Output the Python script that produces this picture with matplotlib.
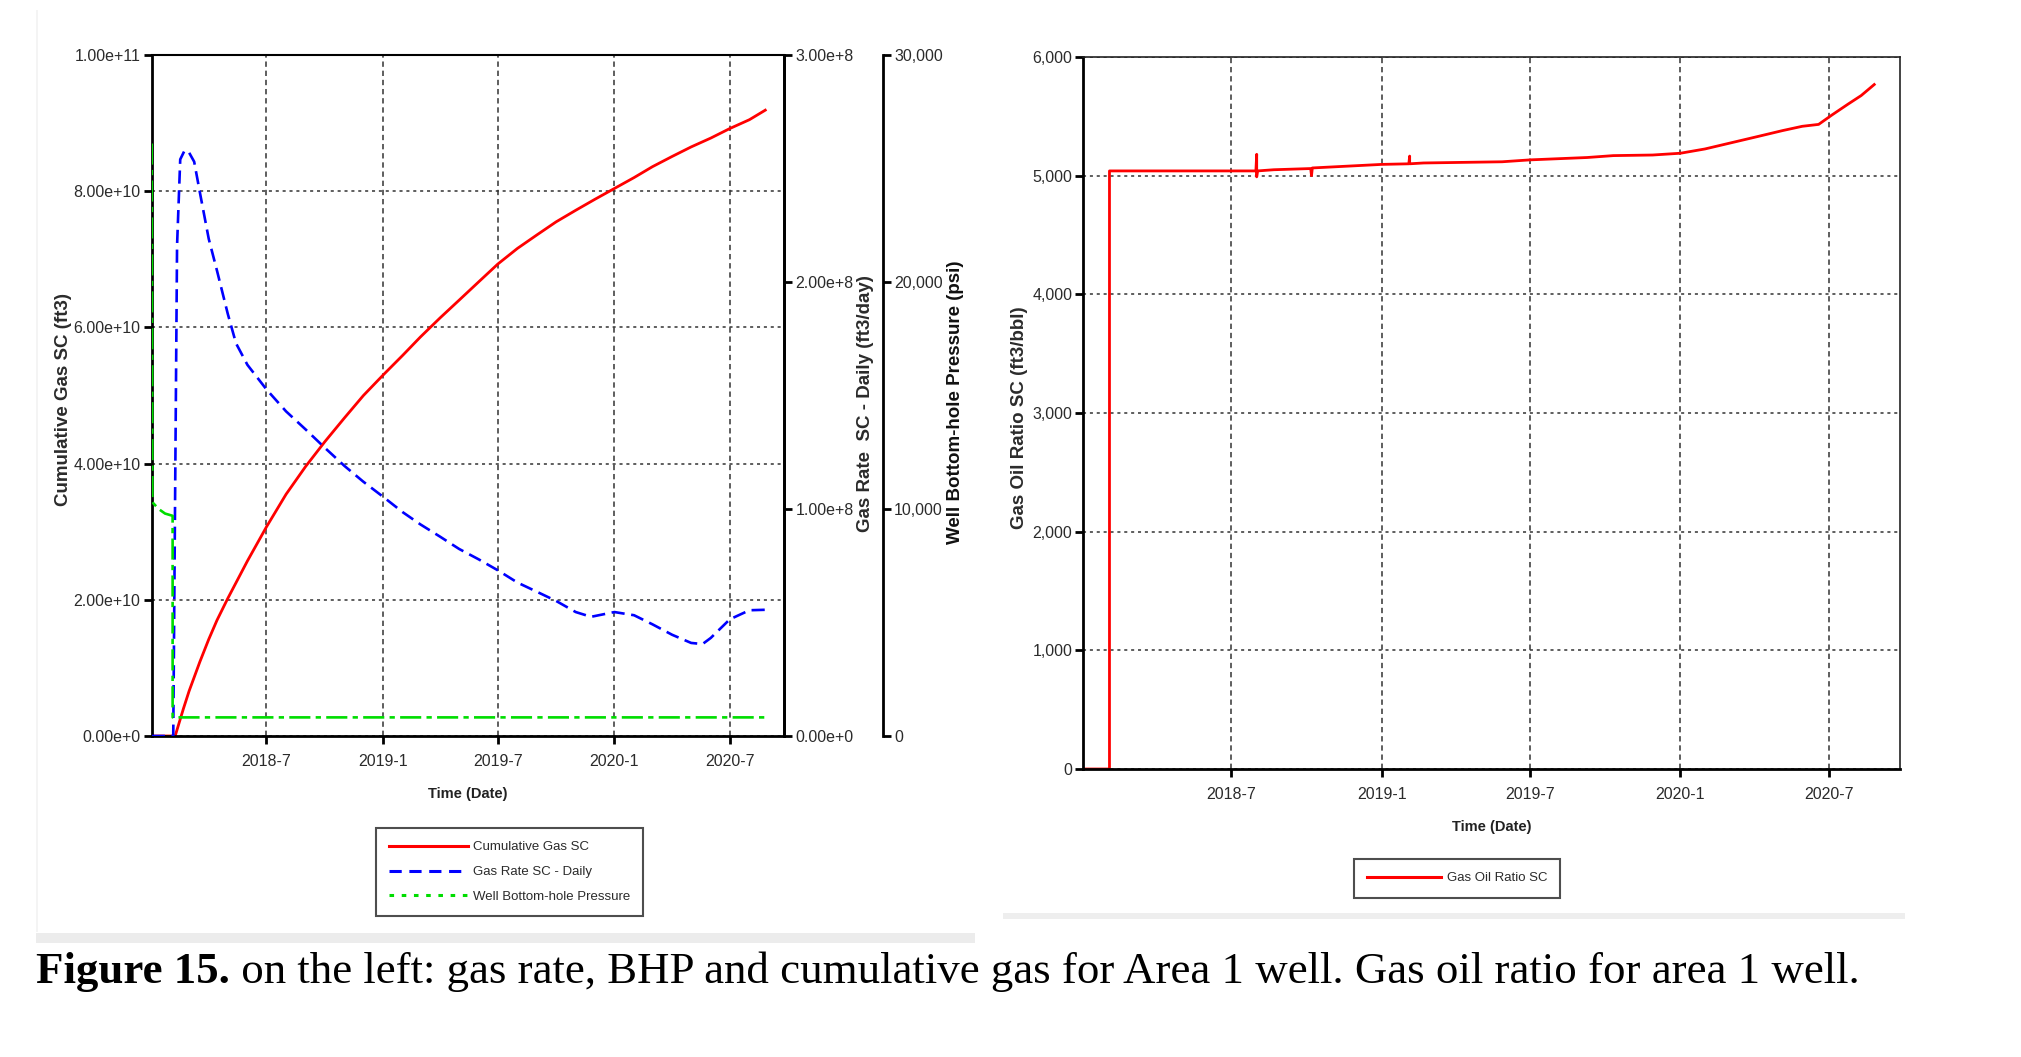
import numpy as np
import matplotlib
matplotlib.use("Agg")
import matplotlib.pyplot as plt
from matplotlib import font_manager
from matplotlib.lines import Line2D
from matplotlib.patches import Rectangle
from matplotlib.ticker import FuncFormatter, MultipleLocator

# ---- data ----
cum_dates = ["2018-01-01", "2018-02-07", "2018-02-20", "2018-03-01", "2018-03-18", "2018-04-01",
             "2018-04-14", "2018-05-01", "2018-06-01", "2018-07-01", "2018-08-01", "2018-09-01",
             "2018-10-01", "2018-11-01", "2018-12-01", "2019-01-01", "2019-02-01", "2019-03-01",
             "2019-04-01", "2019-05-01", "2019-06-01", "2019-07-01", "2019-08-01", "2019-09-01",
             "2019-10-01", "2019-11-01", "2019-12-01", "2020-01-01", "2020-02-01", "2020-03-01",
             "2020-04-01", "2020-05-01", "2020-06-01", "2020-07-01", "2020-08-01", "2020-08-26"]
cum_gas = [0, 0, 0.40e10, 0.66e10, 1.09e10, 1.42e10,
           1.70e10, 2.02e10, 2.57e10, 3.07e10, 3.55e10, 3.96e10,
           4.32e10, 4.67e10, 5.00e10, 5.30e10, 5.59e10, 5.86e10,
           6.14e10, 6.40e10, 6.67e10, 6.93e10, 7.16e10, 7.36e10,
           7.55e10, 7.72e10, 7.88e10, 8.04e10, 8.20e10, 8.36e10,
           8.51e10, 8.65e10, 8.78e10, 8.92e10, 9.05e10, 9.19e10]

rate_dates = ["2018-01-01", "2018-02-04", "2018-02-07", "2018-02-10", "2018-02-15", "2018-02-22",
              "2018-03-01", "2018-03-09", "2018-03-19", "2018-04-01", "2018-04-14", "2018-05-01",
              "2018-05-14", "2018-06-01", "2018-07-01", "2018-08-01", "2018-09-01", "2018-10-01",
              "2018-11-01", "2018-12-01", "2019-01-01", "2019-02-01", "2019-03-01", "2019-04-01",
              "2019-05-01", "2019-06-01", "2019-07-01", "2019-08-01", "2019-09-01", "2019-10-01",
              "2019-11-01", "2019-11-25", "2020-01-01", "2020-02-01", "2020-03-01", "2020-04-01",
              "2020-05-01", "2020-05-19", "2020-06-01", "2020-07-01", "2020-08-01", "2020-08-26"]
gas_rate = [0, 0, 1.08e8, 2.16e8, 2.54e8, 2.58e8,
            2.57e8, 2.53e8, 2.38e8, 2.19e8, 2.05e8, 1.86e8,
            1.73e8, 1.635e8, 1.527e8, 1.43e8, 1.35e8, 1.27e8,
            1.19e8, 1.12e8, 1.054e8, 0.986e8, 0.932e8, 0.878e8,
            0.824e8, 0.778e8, 0.73e8, 0.676e8, 0.635e8, 0.595e8,
            0.546e8, 0.525e8, 0.546e8, 0.532e8, 0.492e8, 0.446e8,
            0.41e8, 0.405e8, 0.432e8, 0.514e8, 0.554e8, 0.556e8]

bhp_dates = ["2018-01-01", "2018-01-02", "2018-01-12", "2018-01-22", "2018-02-03", "2018-02-03",
             "2020-08-26"]
bhp = [26100, 10300, 10000, 9800, 9700, 820, 820]

gor_dates = ["2018-01-01", "2018-02-02", "2018-02-02", "2018-07-31", "2018-08-01", "2018-08-01",
             "2018-08-02", "2018-08-22", "2018-10-06", "2018-10-07", "2018-10-08", "2019-01-01",
             "2019-02-03", "2019-02-04", "2019-02-04", "2019-02-21", "2019-05-28", "2019-07-01",
             "2019-09-09", "2019-10-11", "2019-11-28", "2020-01-01", "2020-01-31", "2020-03-03",
             "2020-04-04", "2020-05-05", "2020-05-29", "2020-06-18", "2020-07-04", "2020-07-24",
             "2020-08-09", "2020-08-25"]
gor = [0, 0, 5040, 5040, 5180, 4990,
       5040, 5050, 5060, 5000, 5065, 5095,
       5100, 5165, 5100, 5107, 5117, 5133,
       5153, 5169, 5174, 5189, 5225, 5277,
       5329, 5380, 5416, 5432, 5510, 5603,
       5675, 5768]

tick_dates = ["2018-07-01", "2019-01-01", "2019-07-01", "2020-01-01", "2020-07-01"]
tick_labels = ["2018-7", "2019-1", "2019-7", "2020-1", "2020-7"]

caption_bold = "Figure 15."
caption_rest = " on the left: gas rate, BHP and cumulative gas for Area 1 well. Gas oil ratio for area 1 well."

# ---- fonts: the chart text is narrow, use a narrow face if one is there ----
installed = {f.name for f in font_manager.fontManager.ttflist}
if "Liberation Sans Narrow" in installed:
    chart_font, k = "Liberation Sans Narrow", 1 / 0.82
else:
    chart_font, k = "Liberation Sans", 1.0
plt.rcParams["font.family"] = [chart_font, "DejaVu Sans"]
tick_fs = 11.5 * k
leg_fs = 9.5 * k
xlab_fs = 10.5 * k
ylab_fs = 13.5

W, H = 2021, 1057
def fx(px):
    return px / W
def fy(py):
    return 1 - py / H

d = lambda lst: np.array(lst, dtype="datetime64[D]")
xlim = (np.datetime64("2018-01-01"), np.datetime64("2020-09-25"))
txt = "#2b2b2b"

def fmt_sci(v, pos):
    s = f"{v:.2e}"
    m, e = s.split("e")
    return f"{m}e{int(e):+d}"

def fmt_comma(v, pos):
    return f"{int(round(v)):,}"

def style_axis(a, which_spines):
    for s in which_spines:
        a.spines[s].set_linewidth(2)
        a.spines[s].set_color("black")
    a.tick_params(length=6, width=2, colors="black", labelcolor=txt, labelsize=tick_fs)

fig = plt.figure(figsize=(W / 100, H / 100), dpi=100)

# ---------------- left chart ----------------
ax = fig.add_axes([fx(151.7), fy(736), fx(784.3) - fx(151.7), fy(55) - fy(736)])
ax2 = ax.twinx()
ax3 = ax.twinx()
ax3.spines["right"].set_position(("axes", (883 - 151.7) / (784.3 - 151.7)))
for a in (ax2, ax3):
    a.spines["left"].set_visible(False)
    a.spines["top"].set_visible(False)
    a.spines["bottom"].set_visible(False)

ax.plot(d(cum_dates), cum_gas, color="#ff0000", lw=2)
ax2.plot(d(rate_dates), gas_rate, color="#0000ff", lw=1.9, linestyle=(0, (5, 2.5)))
ax3.plot(d(bhp_dates), bhp, color="#00dd00", lw=1.9, linestyle=(0, (8, 2, 2, 2)))

ax.set_xlim(*xlim)
ax.set_ylim(0, 1e11)
ax.yaxis.set_major_locator(MultipleLocator(2e10))
ax.yaxis.set_major_formatter(FuncFormatter(fmt_sci))
ax2.set_ylim(0, 3e8)
ax2.yaxis.set_major_locator(MultipleLocator(1e8))
ax2.yaxis.set_major_formatter(FuncFormatter(fmt_sci))
ax3.set_ylim(0, 30000)
ax3.yaxis.set_major_locator(MultipleLocator(10000))
ax3.yaxis.set_major_formatter(FuncFormatter(fmt_comma))

style_axis(ax, ["left", "bottom", "top", "right"])
ax.spines["top"].set_linewidth(1.5)
style_axis(ax2, ["right"])
style_axis(ax3, ["right"])
ax.tick_params(axis="y", pad=2)
ax.tick_params(axis="x", pad=7)
ax2.tick_params(axis="y", pad=2)
ax3.tick_params(axis="y", pad=2)

ax.set_xticks(d(tick_dates))
ax.set_xticklabels(tick_labels)
ax.xaxis.grid(True, color="#333333", lw=1.1, linestyle=(0, (3.5, 2.5)))
ax.yaxis.grid(True, color="#333333", lw=1.1, linestyle=(0, (2, 2.5)))
ax.set_xlabel("Time (Date)", fontsize=xlab_fs, color="#222222", fontweight="bold", labelpad=13)

lab_font = ["Liberation Sans", "DejaVu Sans"]
fig.text(fx(63), fy(400), "Cumulative Gas SC (ft3)", rotation=90, ha="center", va="center",
         fontsize=ylab_fs, fontweight="bold", color=txt, family=lab_font)
fig.text(fx(866), fy(404), "Gas Rate  SC - Daily (ft3/day)", rotation=90, ha="center", va="center",
         fontsize=ylab_fs, fontweight="bold", color=txt, family=lab_font)
fig.text(fx(955), fy(402), "Well Bottom-hole Pressure (psi)", rotation=90, ha="center", va="center",
         fontsize=ylab_fs, fontweight="bold", color="#111111", family=lab_font)

handles = [Line2D([], [], color="#ff0000", lw=2.2),
           Line2D([], [], color="#0000ff", lw=2.2, linestyle=(0, (4, 2.5))),
           Line2D([], [], color="#00dd00", lw=2.2, linestyle=(0, (1.5, 2.5)))]
leg = fig.legend(handles, ["Cumulative Gas SC", "Gas Rate SC - Daily", "Well Bottom-hole Pressure"],
                 loc="upper left", bbox_to_anchor=(fx(376), fy(828)), fontsize=leg_fs,
                 frameon=True, fancybox=False, edgecolor="#222222", handlelength=6.0 / k,
                 handletextpad=0.35, labelspacing=0.95, borderpad=1.0, borderaxespad=0)
leg.get_frame().set_linewidth(1.5)
for t in leg.get_texts():
    t.set_color(txt)

# ---------------- right chart ----------------
bx = fig.add_axes([fx(1083.3), fy(769), fx(1899.6) - fx(1083.3), fy(57) - fy(769)])
bx.plot(d(gor_dates), gor, color="#ff0000", lw=2)
bx.set_xlim(*xlim)
bx.set_ylim(0, 6000)
bx.yaxis.set_major_locator(MultipleLocator(1000))
bx.yaxis.set_major_formatter(FuncFormatter(fmt_comma))
bx.set_xticks(d(tick_dates))
bx.set_xticklabels(tick_labels)
style_axis(bx, ["left", "bottom"])
for s in ("top", "right"):
    bx.spines[s].set_linewidth(1.2)
    bx.spines[s].set_color("#222222")
bx.tick_params(axis="y", pad=2)
bx.tick_params(axis="x", pad=7)
bx.xaxis.grid(True, color="#333333", lw=1.1, linestyle=(0, (3.5, 2.5)))
bx.yaxis.grid(True, color="#333333", lw=1.1, linestyle=(0, (2, 2.5)))
bx.set_xlabel("Time (Date)", fontsize=xlab_fs, color="#222222", fontweight="bold", labelpad=13)
fig.text(fx(1020), fy(418), "Gas Oil Ratio SC (ft3/bbl)", rotation=90, ha="center", va="center",
         fontsize=ylab_fs, fontweight="bold", color=txt, family=lab_font)

leg2 = fig.legend([Line2D([], [], color="#ff0000", lw=2.2)], ["Gas Oil Ratio SC"],
                  loc="upper left", bbox_to_anchor=(fx(1353.5), fy(859)), fontsize=leg_fs,
                  frameon=True, fancybox=False, edgecolor="#222222", handlelength=5.6 / k,
                  handletextpad=0.45, borderpad=1.0, borderaxespad=0)
leg2.get_frame().set_linewidth(1.5)
for t in leg2.get_texts():
    t.set_color(txt)

# ---- faint panel edges from the pasted screenshots ----
fig.add_artist(Rectangle((fx(36), fy(943)), fx(975) - fx(36), 10 / H, transform=fig.transFigure,
                         facecolor="#ececec", edgecolor="none"))
fig.add_artist(Rectangle((fx(36), fy(932)), 1.5 / W, fy(10) - fy(932), transform=fig.transFigure,
                         facecolor="#f4f4f4", edgecolor="none"))
fig.add_artist(Rectangle((fx(1003), fy(919)), fx(1905) - fx(1003), 6 / H, transform=fig.transFigure,
                         facecolor="#eeeeee", edgecolor="none"))

# ---- caption ----
serif = ["Liberation Serif", "DejaVu Serif"]
t1 = fig.text(fx(36), fy(983), caption_bold, fontsize=32.3, fontweight="bold", family=serif,
              va="baseline", ha="left", color="black")
r = fig.canvas.get_renderer()
bb = t1.get_window_extent(renderer=r)
fig.text(bb.x1 / W, fy(983), caption_rest, fontsize=32.3, family=serif,
         va="baseline", ha="left", color="black")

fig.savefig("out.png", dpi=100)
